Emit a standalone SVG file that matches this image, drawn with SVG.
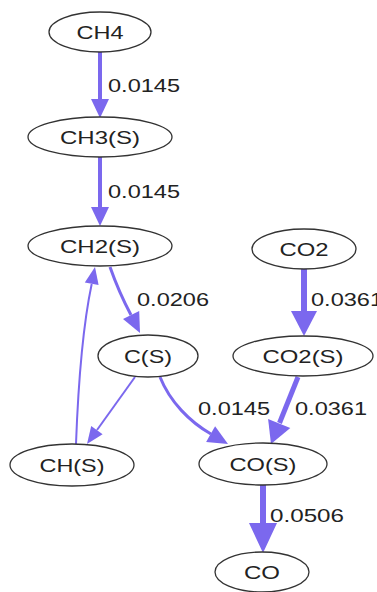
<svg xmlns="http://www.w3.org/2000/svg" width="377" height="592" viewBox="0 0 377 592">
  <style>
    .node ellipse { fill: #ffffff; stroke: #333333; stroke-width: 1.3; }
    .node text { font-family: "Liberation Sans", Arial, sans-serif; font-size: 18px; fill: #222222; text-anchor: middle; }
    .edge { fill: none; stroke: #7b68ee; stroke-linecap: butt; }
    .head { fill: #7b68ee; stroke: none; }
    .lbl { font-family: "Liberation Sans", Arial, sans-serif; font-size: 18px; fill: #222222; }
  </style>
  <rect width="377" height="592" fill="#ffffff"/>

  <g id="connectors">
    <!-- CH4 -> CH3(S) -->
    <line class="edge" x1="100" y1="52" x2="100" y2="100" stroke-width="4"/>
    <polygon class="head" points="91,99 109,99 100,118"/>
    <text class="lbl" x="108" y="92" textLength="72" lengthAdjust="spacingAndGlyphs">0.0145</text>

    <!-- CH3(S) -> CH2(S) -->
    <line class="edge" x1="100" y1="157" x2="100" y2="208" stroke-width="4"/>
    <polygon class="head" points="91,207 109,207 100,226"/>
    <text class="lbl" x="108" y="198" textLength="72" lengthAdjust="spacingAndGlyphs">0.0145</text>

    <!-- CO2 -> CO2(S) -->
    <line class="edge" x1="304" y1="269" x2="304" y2="312" stroke-width="6"/>
    <polygon class="head" points="291,311 317,311 304,336"/>
    <text class="lbl" x="311" y="306" textLength="72" lengthAdjust="spacingAndGlyphs">0.0361</text>

    <!-- CH2(S) -> C(S) -->
    <path class="edge" d="M110,267 C116,284 123,300 131,315" stroke-width="3"/>
    <polygon class="head" points="123,319 139.2,311.1 140,333"/>
    <text class="lbl" x="137" y="306" textLength="72" lengthAdjust="spacingAndGlyphs">0.0206</text>

    <!-- C(S) -> CH(S) -->
    <line class="edge" x1="135" y1="377" x2="97" y2="430" stroke-width="2"/>
    <polygon class="head" points="102.6,434.3 91.2,426.1 87,444"/>

    <!-- CH(S) -> CH2(S) -->
    <path class="edge" d="M76,444 C78,390 82,330 91.7,284" stroke-width="2"/>
    <polygon class="head" points="98.6,285 84.8,282.4 95,267"/>

    <!-- C(S) -> CO(S) -->
    <path class="edge" d="M160,377 C170,402 190,422 211,434" stroke-width="3"/>
    <polygon class="head" points="206.1,441.9 215.1,426.3 228,444"/>
    <text class="lbl" x="198" y="415" textLength="72" lengthAdjust="spacingAndGlyphs">0.0145</text>

    <!-- CO2(S) -> CO(S) -->
    <line class="edge" x1="298" y1="377" x2="279.5" y2="423" stroke-width="5"/>
    <polygon class="head" points="290.3,428.1 268.1,419.1 271,444"/>
    <text class="lbl" x="295" y="415" textLength="72" lengthAdjust="spacingAndGlyphs">0.0361</text>

    <!-- CO(S) -> CO -->
    <line class="edge" x1="263" y1="485" x2="263" y2="524" stroke-width="6"/>
    <polygon class="head" points="249,523 277,523 263,553"/>
    <text class="lbl" x="270" y="522" textLength="74" lengthAdjust="spacingAndGlyphs">0.0506</text>
  </g>

  <g id="CH4" class="node">
    <ellipse cx="100" cy="32" rx="51" ry="20"/>
    <text x="100" y="38.5" textLength="47" lengthAdjust="spacingAndGlyphs">CH4</text>
  </g>
  <g id="CH3S" class="node">
    <ellipse cx="100" cy="137" rx="72" ry="20"/>
    <text x="100" y="143.5" textLength="80" lengthAdjust="spacingAndGlyphs">CH3(S)</text>
  </g>
  <g id="CH2S" class="node">
    <ellipse cx="100" cy="246" rx="72" ry="20"/>
    <text x="100" y="252.5" textLength="80" lengthAdjust="spacingAndGlyphs">CH2(S)</text>
  </g>
  <g id="CO2" class="node">
    <ellipse cx="304" cy="249" rx="52" ry="20"/>
    <text x="304" y="255.5" textLength="49" lengthAdjust="spacingAndGlyphs">CO2</text>
  </g>
  <g id="CS" class="node">
    <ellipse cx="148" cy="356" rx="50" ry="21"/>
    <text x="148" y="362.5" textLength="48" lengthAdjust="spacingAndGlyphs">C(S)</text>
  </g>
  <g id="CO2S" class="node">
    <ellipse cx="303" cy="356" rx="70" ry="20"/>
    <text x="303" y="362.5" textLength="81" lengthAdjust="spacingAndGlyphs">CO2(S)</text>
  </g>
  <g id="CHS" class="node">
    <ellipse cx="72" cy="465" rx="62" ry="21"/>
    <text x="72" y="471.5" textLength="65" lengthAdjust="spacingAndGlyphs">CH(S)</text>
  </g>
  <g id="COS" class="node">
    <ellipse cx="263" cy="464" rx="64" ry="21"/>
    <text x="263" y="470.5" textLength="67" lengthAdjust="spacingAndGlyphs">CO(S)</text>
  </g>
  <g id="CO" class="node">
    <ellipse cx="262" cy="572" rx="47" ry="20"/>
    <text x="262" y="578.5" textLength="36" lengthAdjust="spacingAndGlyphs">CO</text>
  </g>
</svg>
